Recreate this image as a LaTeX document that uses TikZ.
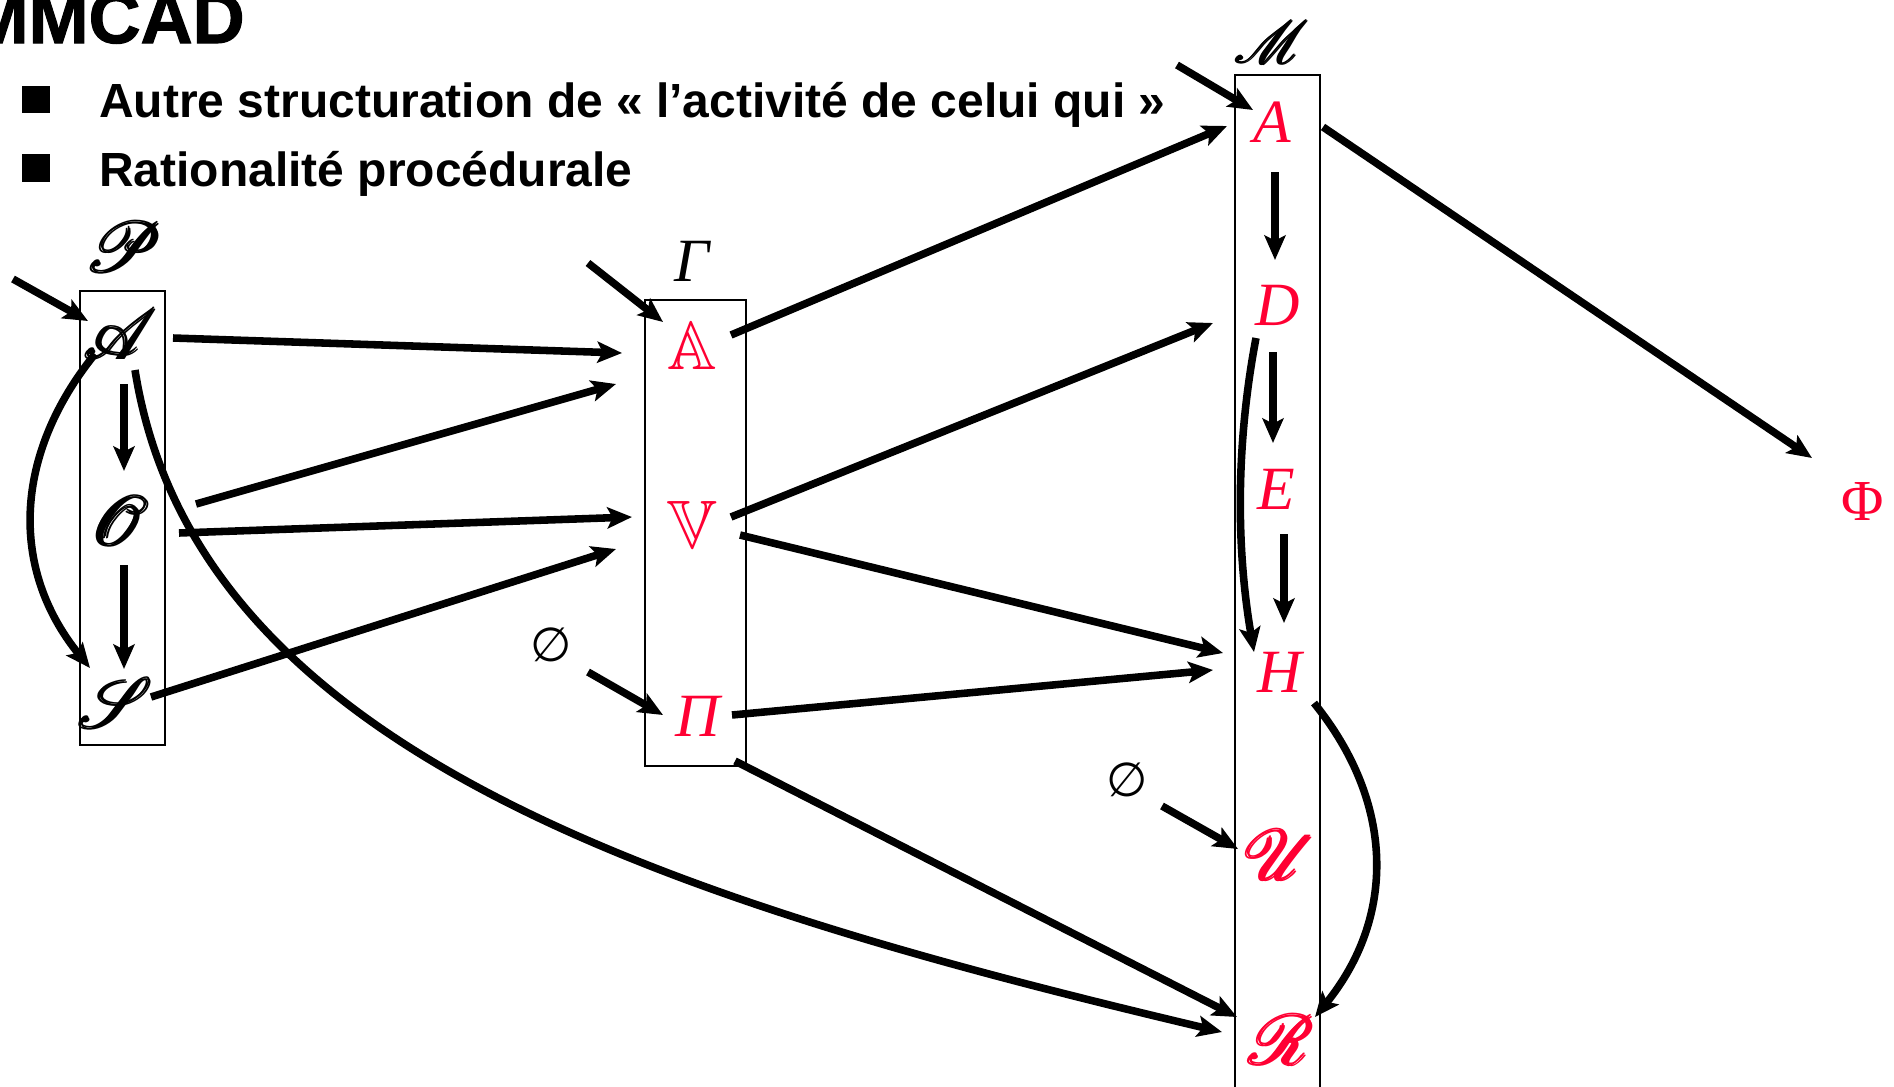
\documentclass[tikz,border=0pt]{standalone}
\usepackage{fontspec}
\usepackage{amsmath,amssymb,mathrsfs,anyfontsize}
\usetikzlibrary{arrows.meta}
\newfontfamily\arialfont{Liberation Sans}
\newfontfamily\heavyfont[BoldFeatures={FakeBold=1.5}]{Liberation Sans}
\newfontfamily\timesfont{Liberation Serif}
\newfontfamily\dejavufont{DejaVu Sans}
\definecolor{mred}{RGB}{255,0,51}

\tikzset{>={Stealth[length=14pt,width=12pt,inset=3pt]}}
\tikzset{
  arr/.style={->,line width=4.3pt},
  stack/.style={draw,line width=1.4pt},
  letter/.style={inner sep=0pt},
  redit/.style={letter,text=mred,font=\timesfont\itshape\fontsize{35}{40}\selectfont},
  scr/.style={letter,font=\fontsize{40}{44}\selectfont},
  dbl/.style={letter,text=mred,font=\fontsize{39}{43}\selectfont},
  nothing/.style={letter,font=\dejavufont\fontsize{27}{30}\selectfont},
  headline/.style={font=\arialfont\bfseries\fontsize{27.3}{32}\selectfont,anchor=base west,inner sep=0pt},
}

\begin{document}
\begin{tikzpicture}[x=0.02cm,y=-0.02cm]
\clip (0,0) rectangle (1894,1086);

% title and bullets
\node[font=\heavyfont\bfseries\fontsize{41}{46}\selectfont,anchor=base east,inner sep=0pt] (title) at (245,43) {MMCAD};
\fill (22,86) rectangle (50,113);
\fill (22,154) rectangle (50,182);
\node[headline] (line1) at (99,117) {Autre structuration de « l’activité de celui qui »};
\node[headline] (line2) at (99,186) {Rationalité procédurale};

% the three boxes
\draw[stack] (80,291) rectangle (165,745);
\draw[stack] (645,300) rectangle (746,766);
\draw[stack] (1235,75) rectangle (1320,1110);

% box labels
\node[scr] (lP) at (125,247) {$\pmb{\mathscr{P}}$};
\node[letter,font=\timesfont\itshape\fontsize{35}{40}\selectfont] (lG) at (692,261) {Γ};
\node[scr,font=\fontsize{34}{38}\selectfont] (lM) at (1273,42) {$\pmb{\mathscr{M}}$};

% left box
\node[scr] (pA) at (122,334) {$\pmb{\mathscr{A}}$};
\node[scr] (pO) at (121,521) {$\pmb{\mathscr{O}}$};
\node[scr] (pS) at (117,703) {$\pmb{\mathscr{S}}$};

% middle box
\node[dbl] (gA) at (692,346) {$\mathbb{A}$};
\node[dbl] (gV) at (692,525) {$\mathbb{V}$};
\node[redit] (gP) at (698,716) {Π};

% right box
\node[redit] (mA) at (1272,122) {A};
\node[redit] (mD) at (1278,305) {D};
\node[redit] (mE) at (1276,489) {E};
\node[redit] (mH) at (1280,672) {H};
\node[scr,text=mred] (mU) at (1282,855) {$\pmb{\mathscr{U}}$};
\node[scr,text=mred] (mR) at (1283,1040) {$\pmb{\mathscr{R}}$};
\node[letter,text=mred,font=\timesfont\fontsize{33}{38}\selectfont] (phi) at (1863,502) {Φ};

% empty sets and loose starts
\node[nothing] (e1) at (551,645) {∅};
\node[nothing] (e2) at (1127,780) {∅};
\coordinate (in1) at (13,279);
\coordinate (in2) at (588,263);
\coordinate (in3) at (1177,65);

% arrows into the boxes
\draw[arr] (in1) -- ([shift={(-34,-13)}]pA.center);
\draw[arr] (in2) -- ([shift={(-29,-24)}]gA.center);
\draw[arr] (in3) -- ([shift={(-19,-12)}]mA.center);
\draw[arr] ([shift={(37,27)}]e1.center) -- ([shift={(-35,-1)}]gP.center);
\draw[arr] ([shift={(35,26)}]e2.center) -- ([shift={(-44,-6)}]mU.center);

% inside the boxes
\draw[arr] ([shift={(2,50)}]pA.center) -- ([shift={(3,-50)}]pO.center);
\draw[arr] ([shift={(3,44)}]pO.center) -- ([shift={(7,-34)}]pS.center);
\draw[arr] ([shift={(-27,20)}]pA.center) .. controls +(-81,100) and +(-81,-100) .. ([shift={(-27,-35)}]pS.center);
\draw[arr] ([shift={(3,50)}]mA.center) -- ([shift={(-3,-45)}]mD.center);
\draw[arr] ([shift={(-5,47)}]mD.center) -- ([shift={(-3,-46)}]mE.center);
\draw[arr] ([shift={(8,45)}]mE.center) -- ([shift={(4,-49)}]mH.center);
\draw[arr] ([shift={(-22,33)}]mD.center) .. controls +(-20,105) and +(-18,-105) .. ([shift={(-26,-20)}]mH.center);
\draw[arr] ([shift={(34,31)}]mH.center) .. controls +(81,100) and +(81,-100) .. ([shift={(32,-23)}]mR.center);

% left box to middle box
\draw[arr] ([shift={(51,4)}]pA.center) -- ([shift={(-70,7)}]gA.center);
\draw[arr] ([shift={(75,-17)}]pO.center) -- ([shift={(-76,38)}]gA.center);
\draw[arr] ([shift={(58,12)}]pO.center) -- ([shift={(-60,-8)}]gV.center);
\draw[arr] ([shift={(34,-6)}]pS.center) -- ([shift={(-76,24)}]gV.center);
\draw[arr] ([shift={(13,36)}]pA.center) .. controls +(60,380) and +(-558,-132) .. ([shift={(-61,-8)}]mR.center);

% middle box to right box
\draw[arr] ([shift={(39,-11)}]gA.center) -- ([shift={(-45,4)}]mA.center);
\draw[arr] ([shift={(39,-8)}]gV.center) -- ([shift={(-65,18)}]mD.center);
\draw[arr] ([shift={(48,10)}]gV.center) -- ([shift={(-57,-19)}]mH.center);
\draw[arr] ([shift={(34,-1)}]gP.center) -- ([shift={(-67,-2)}]mH.center);
\draw[arr] ([shift={(37,45)}]gP.center) -- ([shift={(-46,-23)}]mR.center);
\draw[arr] ([shift={(51,5)}]mA.center) -- ([shift={(-51,-44)}]phi.center);
\end{tikzpicture}
\end{document}
